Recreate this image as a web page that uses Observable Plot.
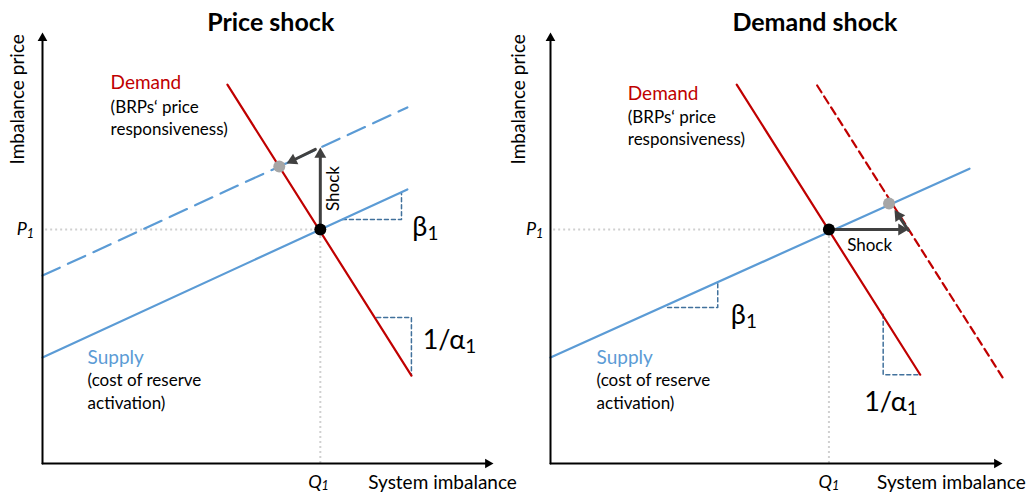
<!DOCTYPE html>
<html><head><meta charset="utf-8">
<script src="https://cdn.jsdelivr.net/npm/d3@7"></script>
<script src="https://cdn.jsdelivr.net/npm/@observablehq/plot@0.6"></script>
<style>
body{margin:0;background:#fff}
#wrap{position:relative;width:1028px;height:494px;overflow:hidden}
#wrap svg{position:absolute;top:0;overflow:visible;background:transparent;max-width:none}
</style>
</head><body><div id="wrap"></div>
<script>
// ---- Texts ----
const titles = ["Price shock", "Demand shock"];
const xAxisLabel = "System imbalance";
const yAxisLabel = "Imbalance price";
const priceLabel = "P_1";
const qtyLabel = "Q_1";
const betaLabel = "β_1";
const alphaLabel = "1/α_1";
const shockLabel = "Shock";
const demandLines = ["Demand", "(BRPs‘ price", "responsiveness)"];
const supplyLines = ["Supply", "(cost of reserve", "activation)"];

// ---- Left panel: price shock (units: x = system imbalance 0–10, y = price 0–10) ----
const psSupply = [[0, 2.46], [8.09, 6.36]];
const psSupplyShifted = [[0, 4.36], [8.09, 8.26]];
const psDemand = [[4.10, 8.79], [8.18, 2.04]];
const psEq = [6.16, 5.43];
const psNewEq = [5.25, 6.89];
const psShock = [[6.16, 5.43], [6.16, 7.33]];
const psAdjust = [[6.05, 7.29], [5.41, 6.96]];
const psBetaTri = [[6.65, 5.66], [7.96, 5.66], [7.96, 6.27]];
const psAlphaTri = [[7.41, 3.39], [8.18, 3.39], [8.18, 2.04]];

// ---- Right panel: demand shock ----
const dsSupply = [[0, 2.46], [9.27, 6.84]];
const dsDemand = [[4.12, 8.79], [8.18, 2.06]];
const dsDemandShifted = [[5.90, 8.77], [10.0, 2.0]];
const dsEq = [6.16, 5.43];
const dsNewEq = [7.49, 6.03];
const dsShock = [[6.16, 5.43], [7.92, 5.43]];
const dsAdjust = [[7.92, 5.41], [7.61, 5.88]];
const dsBetaTri = [[2.59, 3.62], [3.70, 3.62], [3.70, 4.20]];
const dsAlphaTri = [[7.36, 3.46], [7.36, 2.06], [8.18, 2.06]];

const W = 514, H = 494, MT = 32, MB = 31;
const FONT = "Lato, 'DejaVu Sans', sans-serif";
const RED = "#C00000", BLUE = "#5B9BD5", TRI = "#41719C", ARROW = "#404040";

function arrow(seg, color, width, r, kx, ky) {
  const [[x1, y1], [x2, y2]] = seg;
  const sx = (x2 - x1) * kx, sy = -(y2 - y1) * ky;
  const len = Math.hypot(sx, sy), ux = sx / len, uy = sy / len;
  const angle = Math.atan2(ux, -uy) * 180 / Math.PI;
  const off = 1.555 * r;
  return [
    Plot.arrow([seg], {x1: d => d[0][0], y1: d => d[0][1], x2: d => d[1][0], y2: d => d[1][1],
      stroke: color, strokeWidth: width, headLength: 0, insetEnd: off}),
    Plot.dot([seg[1]], {x: d => d[0], y: d => d[1], symbol: "triangle", r, fill: color, stroke: "none",
      rotate: angle, dx: -ux * off, dy: -uy * off})
  ];
}
const seg = (data, opts) => Plot.line(data, {x: d => d[0], y: d => d[1], ...opts});

function panel(p) {
  const kx = (W - p.ml - p.mr) / 10, ky = (H - MT - MB) / 10;
  const a = p.ann;
  const marks = [
    Plot.ruleY([p.eq], {y: d => d[1], x1: 0.07, x2: d => d[0], stroke: "#D0D0D0", strokeWidth: 2, strokeDasharray: "2,3"}),
    Plot.ruleX([p.eq], {x: d => d[0], y1: 0, y2: d => d[1], stroke: "#D0D0D0", strokeWidth: 2, strokeDasharray: "2,3"}),
    seg(p.betaTri, {stroke: TRI, strokeWidth: 1.5, strokeDasharray: "4,3"}),
    seg(p.alphaTri, {stroke: TRI, strokeWidth: 1.5, strokeDasharray: "4,3"}),
    ...p.curves.map(c => seg(c.data, {stroke: c.color, strokeWidth: 2.2, strokeDasharray: c.dash})),
    ...arrow([[0, 0], [0, 10]], "#000", 2, 3.6, kx, ky),
    ...arrow([[0, 0], [10, 0]], "#000", 2, 3.6, kx, ky),
    ...arrow(p.shock, ARROW, 3, 4.4, kx, ky),
    ...arrow(p.adjust, ARROW, 3, 4.4, kx, ky),
    Plot.dot([p.newEq], {x: d => d[0], y: d => d[1], r: 6, fill: "#A6A6A6"}),
    Plot.dot([p.eq], {x: d => d[0], y: d => d[1], r: 6, fill: "#000"}),
    Plot.text([p.title], {x: a.title[0], y: a.title[1], text: d => d, fontSize: 25, fontWeight: "bold", fill: "#000"}),
    Plot.text([yAxisLabel], {x: a.ytitle[0], y: a.ytitle[1], text: d => d, rotate: -90, fontSize: 19, fill: "#000"}),
    Plot.text([xAxisLabel], {x: a.xtitle[0], y: a.xtitle[1], text: d => d, fontSize: 19, fill: "#000"}),
    Plot.text([priceLabel], {x: a.p1[0], y: a.p1[1], text: d => d, fontSize: 18, fontStyle: "italic", fill: "#000"}),
    Plot.text([qtyLabel], {x: a.q1[0], y: a.q1[1], text: d => d, fontSize: 18, fontStyle: "italic", fill: "#000"}),
    Plot.text([betaLabel], {x: a.beta[0], y: a.beta[1], text: d => d, fontSize: 27, textAnchor: "start", fill: "#000"}),
    Plot.text([alphaLabel], {x: a.alpha[0], y: a.alpha[1], text: d => d, fontSize: 27, textAnchor: "start", fill: "#000"}),
    Plot.text([shockLabel], {x: a.shock[0], y: a.shock[1], text: d => d, rotate: a.shockRotate, fontSize: 17, fill: "#000"}),
    Plot.text(demandLines, {x: a.demand[0], y: (d, i) => a.demand[1][i], text: d => d, textAnchor: "start",
      fontSize: (d, i) => i === 0 ? 19 : 17, fill: (d, i) => i === 0 ? RED : "#000"}),
    Plot.text(supplyLines, {x: a.supply[0], y: (d, i) => a.supply[1][i], text: d => d, textAnchor: "start",
      fontSize: (d, i) => i === 0 ? 19 : 17, fill: (d, i) => i === 0 ? BLUE : "#000"})
  ];
  const svg = Plot.plot({
    width: W, height: H, marginLeft: p.ml, marginRight: p.mr, marginTop: MT, marginBottom: MB,
    x: {domain: [0, 10], axis: null}, y: {domain: [0, 10], axis: null},
    style: {fontFamily: FONT, background: "transparent", overflow: "visible"},
    marks
  });
  d3.select(svg).selectAll("text").each(function () {
    const t = this.textContent;
    if (this.childElementCount === 0 && t.includes("_")) {
      const [base, sub] = t.split("_");
      const el = d3.select(this);
      el.text(base);
      el.append("tspan").attr("font-size", "70%").attr("dy", "0.2em").text(sub);
    }
  });
  svg.style.left = p.left + "px";
  return svg;
}

const wrap = document.getElementById("wrap");
wrap.append(panel({
  title: titles[0], left: 0, ml: 42, mr: 21,
  eq: psEq, newEq: psNewEq, shock: psShock, adjust: psAdjust, betaTri: psBetaTri, alphaTri: psAlphaTri,
  curves: [
    {data: psSupplyShifted, color: BLUE, dash: "19,9"},
    {data: psSupply, color: BLUE},
    {data: psDemand, color: RED}
  ],
  ann: {title: [5.06, 10.21], ytitle: [-0.55, 8.45], xtitle: [8.87, -0.46], p1: [-0.38, 5.43], q1: [6.12, -0.43],
    beta: [8.2, 5.48], alpha: [8.43, 2.85], shock: [6.45, 6.38], shockRotate: -90,
    demand: [1.51, [8.82, 8.26, 7.75]], supply: [1.0, [2.46, 1.93, 1.39]]}
}));
wrap.append(panel({
  title: titles[1], left: 514, ml: 36, mr: 26,
  eq: dsEq, newEq: dsNewEq, shock: dsShock, adjust: dsAdjust, betaTri: dsBetaTri, alphaTri: dsAlphaTri,
  curves: [
    {data: dsDemandShifted, color: RED, dash: "8,5"},
    {data: dsSupply, color: BLUE},
    {data: dsDemand, color: RED}
  ],
  ann: {title: [5.85, 10.21], ytitle: [-0.69, 8.45], xtitle: [8.87, -0.46], p1: [-0.35, 5.43], q1: [6.16, -0.43],
    beta: [3.99, 3.43], alpha: [6.94, 1.42], shock: [7.06, 5.06], shockRotate: 0,
    demand: [1.71, [8.58, 8.03, 7.52]], supply: [1.02, [2.46, 1.93, 1.39]]}
}));
</script></body></html>
